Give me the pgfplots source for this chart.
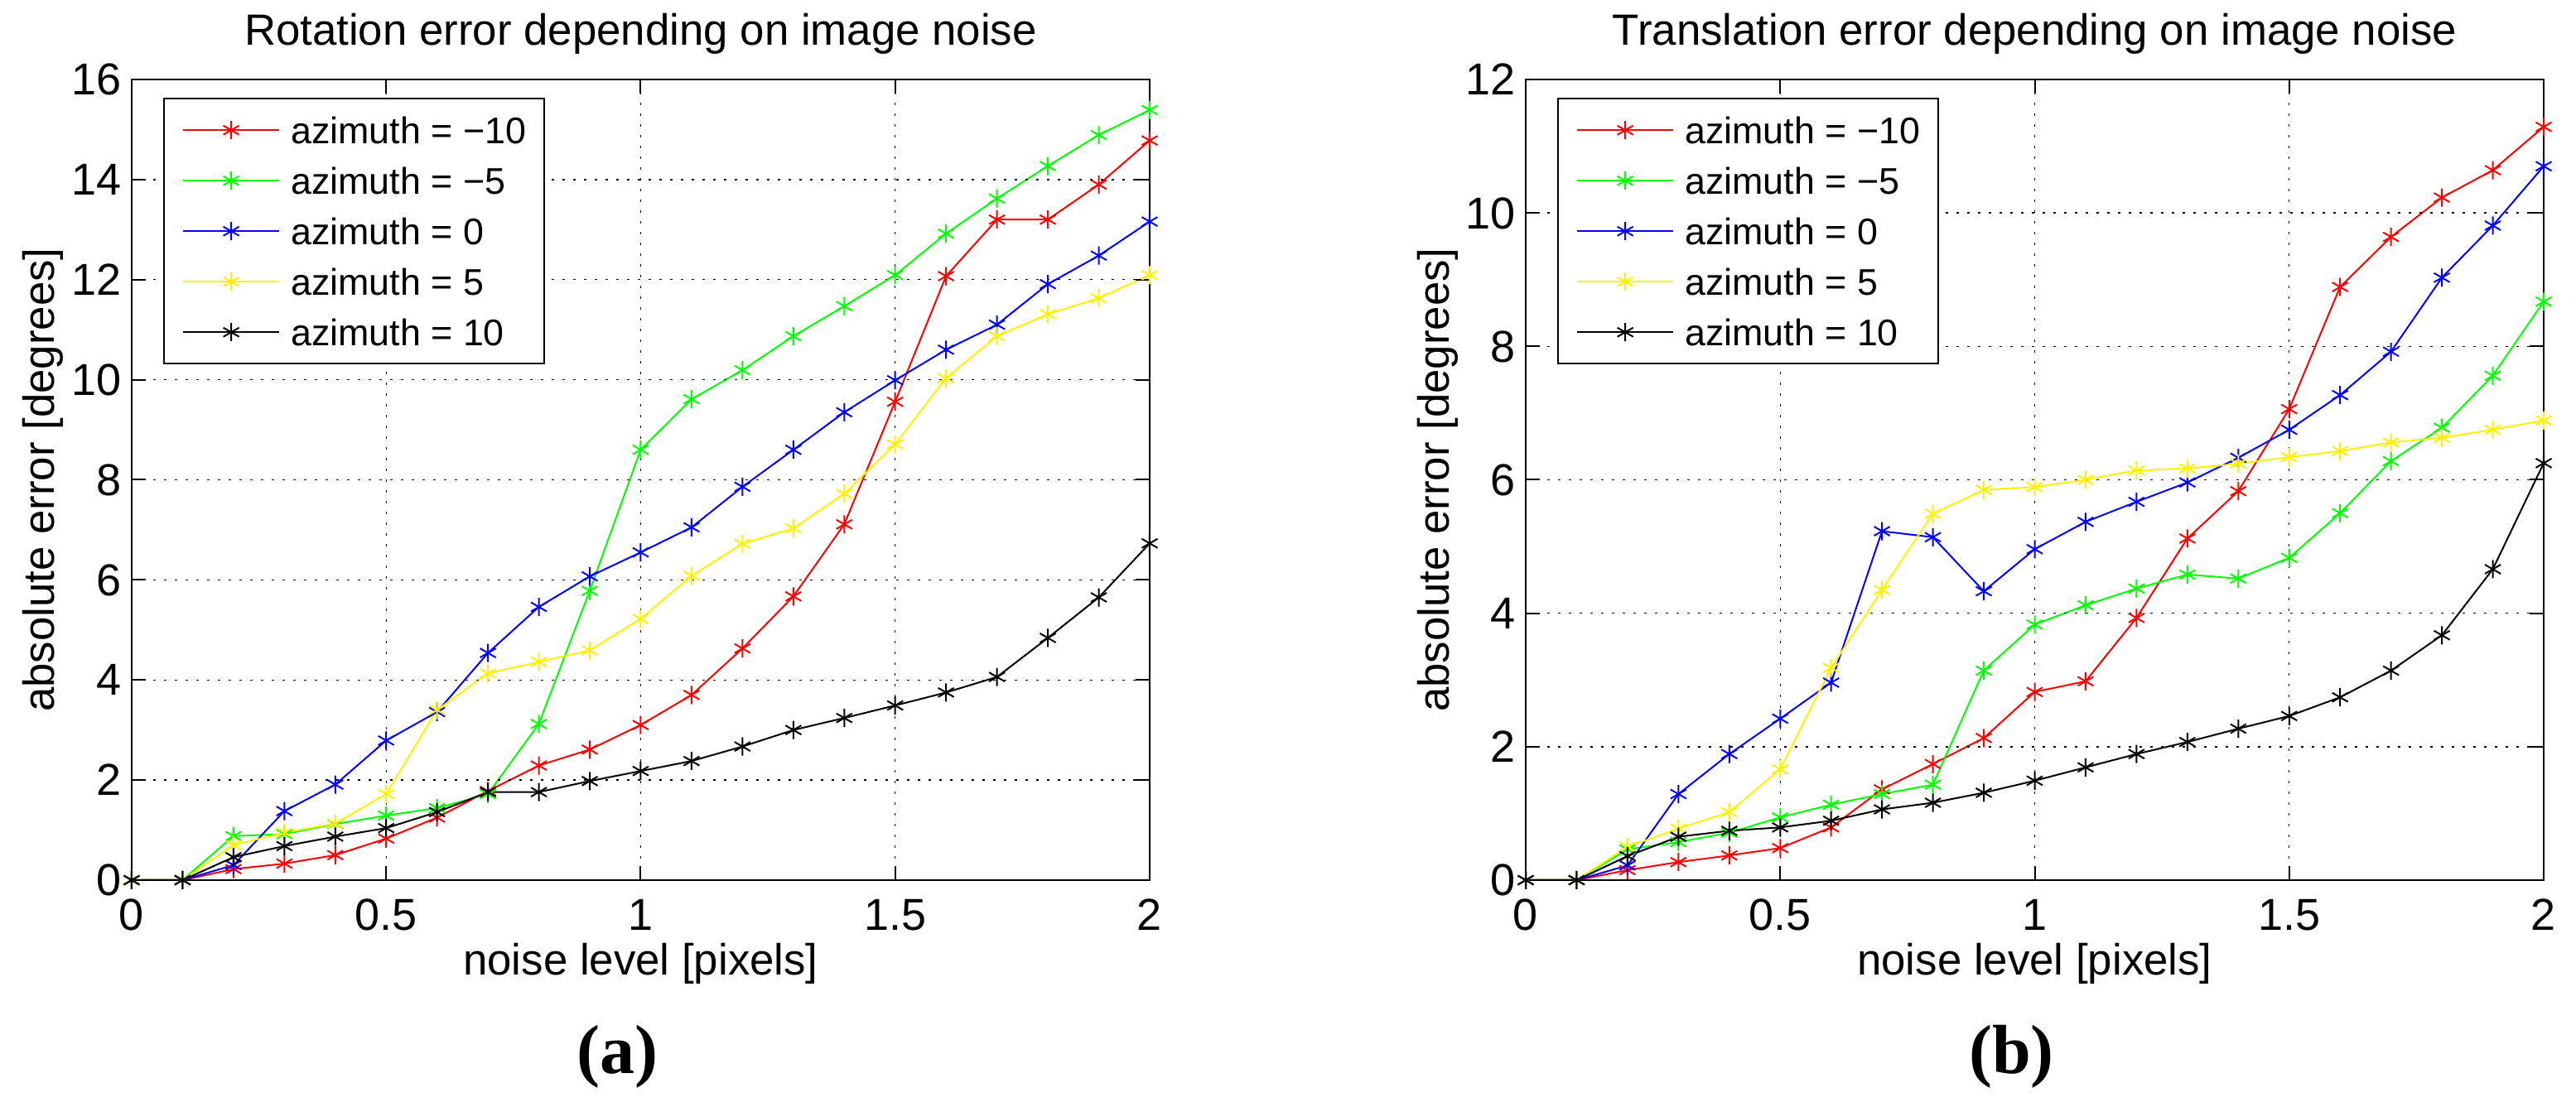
\documentclass[border=0pt]{standalone}
\usepackage{fontspec}
\usepackage{pgfplots}
\usepackage{pgfplotstable}
\pgfplotsset{compat=1.18}
\newfontfamily\helv{Liberation Sans}
\newfontfamily\tms{Liberation Serif}

\pgfplotstableread{
x   m10   m5    z     p5    p10
0   0     0     0     0     0
0.1 0     0     0     0     0
0.2 0.22  0.88  0.30  0.70  0.46
0.3 0.33  0.92  1.38  0.95  0.68
0.4 0.50  1.12  1.91  1.13  0.87
0.5 0.83  1.29  2.79  1.72  1.04
0.6 1.25  1.44  3.36  3.40  1.36
0.7 1.78  1.72  4.54  4.13  1.76
0.8 2.29  3.12  5.46  4.36  1.76
0.9 2.61  5.78  6.07  4.59  1.98
1.0 3.10  8.60  6.55  5.22  2.18
1.1 3.70  9.61  7.05  6.08  2.38
1.2 4.63  10.19 7.86  6.72  2.67
1.3 5.67  10.87 8.60  7.03  3.00
1.4 7.11  11.47 9.35  7.72  3.24
1.5 9.56  12.09 9.99  8.71  3.49
1.6 12.07 12.92 10.60 10.03 3.75
1.7 13.20 13.62 11.10 10.87 4.06
1.8 13.20 14.27 11.91 11.31 4.84
1.9 13.90 14.89 12.48 11.63 5.65
2.0 14.78 15.39 13.16 12.09 6.73
}\rotdata

\pgfplotstableread{
x   m10   m5    z     p5    p10
0   0     0     0     0     0
0.1 0     0     0     0     0
0.2 0.15  0.46  0.22  0.50  0.36
0.3 0.27  0.57  1.29  0.77  0.65
0.4 0.37  0.71  1.89  1.02  0.74
0.5 0.48  0.94  2.42  1.66  0.79
0.6 0.79  1.13  2.96  3.18  0.89
0.7 1.36  1.29  5.23  4.35  1.06
0.8 1.74  1.43  5.14  5.49  1.16
0.9 2.13  3.14  4.33  5.85  1.31
1.0 2.82  3.83  4.96  5.89  1.49
1.1 2.98  4.12  5.37  6.00  1.69
1.2 3.93  4.37  5.67  6.14  1.89
1.3 5.12  4.58  5.96  6.17  2.07
1.4 5.83  4.52  6.33  6.24  2.27
1.5 7.06  4.83  6.75  6.34  2.46
1.6 8.89  5.50  7.27  6.43  2.74
1.7 9.64  6.28  7.92  6.56  3.14
1.8 10.23 6.78  9.03  6.63  3.67
1.9 10.64 7.56  9.81  6.75  4.66
2.0 11.29 8.67  10.70 6.89  6.25
}\transdata

\pgfplotsset{
  mstyle/.style={
    scale only axis,
    width=307.25pt, height=241.75pt,
    xmin=0, xmax=2,
    xtick={0,0.5,1,1.5,2},
    xticklabels={0,0.5,1,1.5,2},
    axis on top,
    clip=false,
    grid=major,
    major grid style={black, line width=0.35pt, dash pattern=on 0.75pt off 2.5pt},
    tick pos=both,
    tick align=inside,
    major tick length=4.25pt,
    every tick/.style={black, line width=0.5pt},
    axis line style={line width=0.6pt},
    ticklabel style={font=\helv\fontsize{13.5pt}{15pt}\selectfont},
    xticklabel style={anchor=base, inner sep=0pt, yshift=-15.25pt},
    yticklabel style={anchor=east, inner sep=0pt, text depth=0pt, xshift=-3pt},
    title style={font=\helv\fontsize{13.2pt}{15pt}\selectfont, at={(axis description cs:0.5,1)}, anchor=base, yshift=4.25pt},
    xlabel style={font=\helv\fontsize{13.2pt}{15pt}\selectfont, at={(axis description cs:0.5,0)}, anchor=base, yshift=-28.75pt},
    ylabel style={font=\helv\fontsize{13.2pt}{15pt}\selectfont, at={([xshift=-23.25pt]axis description cs:0,0.5)}, anchor=base},
    xlabel={noise level [pixels]},
    ylabel={absolute error [degrees]},
    every axis plot/.append style={line width=0.5pt, mark=asterisk, mark size=2.75pt, mark options={solid}},
    legend cell align=left,
    legend image code/.code={\draw[mark repeat=2,mark phase=2] plot coordinates {(0pt,0pt) (14.5pt,0pt) (29pt,0pt)};},
    legend style={at={(0.0309,0.9772)}, anchor=north west, draw=black, line width=0.6pt, fill=white,
      font=\helv\fontsize{11.2pt}{13pt}\selectfont,
      inner xsep=5.5pt, inner ysep=5.4pt,
      nodes={inner sep=0pt, text height=8.2pt, text depth=0pt},
      row sep=7.05pt, column sep=3.25pt},
  }
}

\begin{document}
\begin{tikzpicture}
\path[use as bounding box] (-39.75pt,-68.5pt) rectangle (737.75pt,265.75pt);

\begin{axis}[mstyle, at={(0pt,0pt)}, anchor=south west,
  ymin=0, ymax=16, ytick={0,2,4,6,8,10,12,14,16},
  yticklabels={0,2,4,6,8,10,12,14,16},
  title={Rotation error depending on image noise}]
\addplot[red] table[x=x,y=m10] {\rotdata};
\addplot[green] table[x=x,y=m5] {\rotdata};
\addplot[blue] table[x=x,y=z] {\rotdata};
\addplot[yellow] table[x=x,y=p5] {\rotdata};
\addplot[black] table[x=x,y=p10] {\rotdata};
\legend{azimuth = −10, azimuth = −5, azimuth = 0, azimuth = 5, azimuth = 10}
\node[anchor=base, font=\tms\bfseries\fontsize{21pt}{24pt}\selectfont] at ([xshift=-7pt,yshift=-58.5pt]axis description cs:0.5,0) {(a)};
\end{axis}

\begin{axis}[mstyle, at={(420.75pt,0pt)}, anchor=south west,
  ymin=0, ymax=12, ytick={0,2,4,6,8,10,12},
  yticklabels={0,2,4,6,8,10,12},
  title={Translation error depending on image noise}]
\addplot[red] table[x=x,y=m10] {\transdata};
\addplot[green] table[x=x,y=m5] {\transdata};
\addplot[blue] table[x=x,y=z] {\transdata};
\addplot[yellow] table[x=x,y=p5] {\transdata};
\addplot[black] table[x=x,y=p10] {\transdata};
\legend{azimuth = −10, azimuth = −5, azimuth = 0, azimuth = 5, azimuth = 10}
\node[anchor=base, font=\tms\bfseries\fontsize{21pt}{24pt}\selectfont] at ([xshift=-7pt,yshift=-58.5pt]axis description cs:0.5,0) {(b)};
\end{axis}
\end{tikzpicture}
\end{document}
